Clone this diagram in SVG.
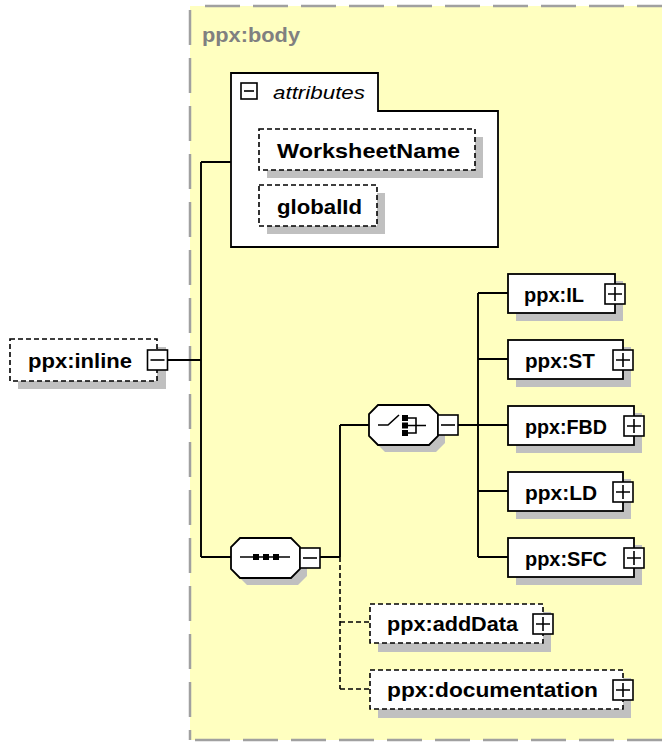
<svg xmlns="http://www.w3.org/2000/svg" xmlns:xlink="http://www.w3.org/1999/xlink" width="662" height="742" viewBox="0 0 662 742">
<style>
.bg{fill:#ffffc0;stroke:none}
.border{fill:none;stroke:#a0a0a0;stroke-width:2.5;stroke-dasharray:35 13}
.shadow{fill:#c0c0c0;stroke:none}
.box{fill:#fff;stroke:#000;stroke-width:1.8}
.dbox{fill:#fff;stroke:#000;stroke-width:1.6;stroke-dasharray:5 3}
.icon{fill:#fff;stroke:#000;stroke-width:1.6}
.sym{fill:none;stroke:#000;stroke-width:1.6}
.dot{fill:#000;stroke:none}
.line{fill:none;stroke:#000;stroke-width:1.9}
.dline{fill:none;stroke:#000;stroke-width:1.6;stroke-dasharray:5 3}
.lbl{font-family:"Liberation Sans",Arial,sans-serif;font-weight:bold;font-size:21px;fill:#000}
.title{font-family:"Liberation Sans",Arial,sans-serif;font-weight:bold;font-size:21px;fill:#808080}
.ital{font-family:"Liberation Sans",Arial,sans-serif;font-style:italic;font-size:19px;fill:#000}
</style>
<defs>
<g id="minusIcon"><rect class="icon" x="-10" y="-10" width="20" height="20"/><path class="sym" d="M-7,0H7"/></g>
<g id="plusIcon"><rect class="icon" x="-10" y="-10" width="20" height="20"/><path class="sym" d="M-7,0H7M0,-7V7"/></g>
</defs>

<g id="body">
<rect class="bg" x="190" y="6" width="480" height="734"/>
<path class="border" d="M205,6H670"/>
<path class="border" d="M190,10V740"/>
<path class="border" d="M195,740H670"/>
<text class="title" x="202" y="42" textLength="98" lengthAdjust="spacingAndGlyphs">ppx:body</text>
</g>

<g id="connectors">
<path class="line" d="M168,360H201M201,162V557M201,162H231M201,557H231"/>
<path class="line" d="M320,557H340M340,425V557M340,425H369"/>
<path class="line" d="M458,425H478M478,293V557M478,293H508M478,359H508M478,425H508M478,491H508M478,557H508"/>
<path class="dline" d="M340,557V689M340,622H370M340,689H370"/>
</g>

<g id="ppx-inline">
<rect class="shadow" x="18" y="347" width="148" height="42"/>
<rect class="dbox" x="10" y="339" width="147" height="42"/>
<use xlink:href="#minusIcon" x="157.5" y="360"/>
<text class="lbl" x="28" y="368" textLength="104" lengthAdjust="spacingAndGlyphs">ppx:inline</text>
</g>

<g id="attributes">
<path class="box" d="M231,73H378V111H498V247H231Z"/>
<rect class="icon" x="241" y="83" width="16" height="16"/>
<path class="sym" d="M244,91H254"/>
<text class="ital" x="273" y="99" textLength="92" lengthAdjust="spacingAndGlyphs">attributes</text>
</g>

<g id="attr-WorksheetName">
<rect class="shadow" x="267" y="137" width="216" height="41"/>
<rect class="dbox" x="259" y="129" width="216" height="41"/>
<text class="lbl" x="277" y="158" textLength="183" lengthAdjust="spacingAndGlyphs">WorksheetName</text>
</g>

<g id="attr-globalId">
<rect class="shadow" x="267" y="193" width="118" height="41"/>
<rect class="dbox" x="259" y="185" width="118" height="41"/>
<text class="lbl" x="277" y="214" textLength="85" lengthAdjust="spacingAndGlyphs">globalId</text>
</g>

<g id="sequence">
<path class="shadow" d="M247,545H298L307,554V576L298,585H247L238,576V554Z"/>
<path class="box" d="M240,538H291L300,547V569L291,578H240L231,569V547Z"/>
<path class="sym" d="M240,557H290"/>
<rect class="dot" x="253" y="554" width="6" height="6"/>
<rect class="dot" x="263" y="554" width="6" height="6"/>
<rect class="dot" x="273" y="554" width="6" height="6"/>
<use xlink:href="#minusIcon" x="310" y="558"/>
</g>

<g id="choice">
<path class="shadow" d="M385,412H436L445,421V443L436,452H385L376,443V421Z"/>
<path class="box" d="M378,405H429L438,414V436L429,445H378L369,436V414Z"/>
<path class="sym" d="M378,425H388L399,415"/>
<rect class="dot" x="402" y="415" width="6" height="6"/>
<rect class="dot" x="402" y="422.5" width="6" height="6"/>
<rect class="dot" x="402" y="430" width="6" height="6"/>
<path class="sym" d="M408,418H416V433H408M408,425.5H426"/>
<use xlink:href="#minusIcon" x="448" y="425"/>
</g>

<g id="ppx-IL">
<rect class="shadow" x="516" y="281" width="107" height="40"/>
<rect class="box" x="508" y="274" width="107" height="39"/>
<use xlink:href="#plusIcon" x="615" y="294"/>
<text class="lbl" x="524" y="302" textLength="60" lengthAdjust="spacingAndGlyphs">ppx:IL</text>
</g>

<g id="ppx-ST">
<rect class="shadow" x="516" y="347" width="115" height="40"/>
<rect class="box" x="508" y="340" width="115" height="39"/>
<use xlink:href="#plusIcon" x="623" y="360"/>
<text class="lbl" x="525" y="368" textLength="70" lengthAdjust="spacingAndGlyphs">ppx:ST</text>
</g>

<g id="ppx-FBD">
<rect class="shadow" x="516" y="413" width="126" height="40"/>
<rect class="box" x="508" y="406" width="126" height="39"/>
<use xlink:href="#plusIcon" x="634" y="426"/>
<text class="lbl" x="525" y="434" textLength="82" lengthAdjust="spacingAndGlyphs">ppx:FBD</text>
</g>

<g id="ppx-LD">
<rect class="shadow" x="516" y="479" width="115" height="40"/>
<rect class="box" x="508" y="472" width="115" height="39"/>
<use xlink:href="#plusIcon" x="623" y="492"/>
<text class="lbl" x="525" y="500" textLength="72" lengthAdjust="spacingAndGlyphs">ppx:LD</text>
</g>

<g id="ppx-SFC">
<rect class="shadow" x="516" y="545" width="126" height="40"/>
<rect class="box" x="508" y="538" width="126" height="39"/>
<use xlink:href="#plusIcon" x="634" y="558"/>
<text class="lbl" x="525" y="566" textLength="82" lengthAdjust="spacingAndGlyphs">ppx:SFC</text>
</g>

<g id="ppx-addData">
<rect class="shadow" x="378" y="612" width="173" height="40"/>
<rect class="dbox" x="370" y="604" width="173" height="39"/>
<use xlink:href="#plusIcon" x="543" y="624"/>
<text class="lbl" x="387" y="631" textLength="131" lengthAdjust="spacingAndGlyphs">ppx:addData</text>
</g>

<g id="ppx-documentation">
<rect class="shadow" x="378" y="678" width="253" height="40"/>
<rect class="dbox" x="370" y="670" width="253" height="39"/>
<use xlink:href="#plusIcon" x="623" y="690"/>
<text class="lbl" x="387" y="697" textLength="211" lengthAdjust="spacingAndGlyphs">ppx:documentation</text>
</g>
</svg>
